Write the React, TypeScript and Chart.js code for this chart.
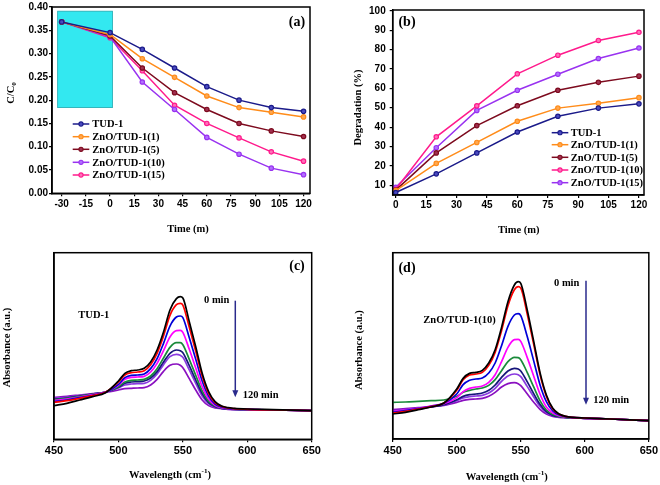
import React, { useEffect, useRef } from 'react';
import { Chart, registerables } from 'chart.js';

Chart.register(...registerables);

// ---------- data ----------
const SERIES_LABELS = ['TUD-1', 'ZnO/TUD-1(1)', 'ZnO/TUD-1(5)', 'ZnO/TUD-1(10)', 'ZnO/TUD-1(15)'];

// panel (a): C/C0 vs time
const TIME_A = [-30, 0, 20, 40, 60, 80, 100, 120];
const A_TUD1 = [0.368, 0.345, 0.309, 0.269, 0.229, 0.200, 0.184, 0.176];
const A_ZNO1 = [0.368, 0.341, 0.289, 0.249, 0.209, 0.184, 0.174, 0.164];
const A_ZNO5 = [0.368, 0.338, 0.269, 0.216, 0.180, 0.150, 0.134, 0.122];
const A_ZNO10 = [0.368, 0.336, 0.239, 0.180, 0.120, 0.084, 0.054, 0.040];
const A_ZNO15 = [0.368, 0.334, 0.263, 0.189, 0.150, 0.119, 0.089, 0.069];
const A_X_TICKS = [-30, -15, 0, 15, 30, 45, 60, 75, 90, 105, 120];
const A_Y_TICKS = [0, 0.05, 0.1, 0.15, 0.2, 0.25, 0.3, 0.35, 0.4];
const A_DARK_RANGE_X = [-32.5, 1.5];
const A_DARK_RANGE_Y = [0.184, 0.391];

// panel (b): degradation vs time
const TIME_B = [0, 20, 40, 60, 80, 100, 120];
const B_TUD1 = [6.3, 15.9, 26.7, 37.5, 45.6, 49.8, 52.0];
const B_ZNO1 = [7.3, 21.3, 32.1, 43.0, 49.8, 52.3, 55.2];
const B_ZNO5 = [7.5, 26.7, 40.8, 51.0, 59.0, 63.1, 66.3];
const B_ZNO10 = [8.0, 35.0, 51.0, 67.5, 77.1, 84.7, 88.9];
const B_ZNO15 = [9.0, 29.4, 48.6, 59.0, 67.3, 75.4, 80.8];
const B_X_TICKS = [0, 15, 30, 45, 60, 75, 90, 105, 120];
const B_Y_TICKS = [10, 20, 30, 40, 50, 60, 70, 80, 90, 100];

// panels (c),(d): absorbance spectra (arbitrary units)
const WAVE = [450, 460, 470, 480, 490, 500, 505, 510, 515, 520, 525, 530, 535, 540, 545, 548, 550, 555, 560, 565, 570, 575, 580, 585, 590, 600, 620, 650];
const SPEC_X_TICKS = [450, 500, 550, 600, 650];

const C_S1 = [101, 108, 118, 128, 140, 175, 198, 206, 208, 213, 232, 268, 322, 388, 422, 428, 424, 353, 278, 198, 143, 113, 100, 95, 93, 91, 89, 86];
const C_S2 = [111, 116, 123, 131, 141, 172, 193, 200, 202, 206, 224, 258, 310, 372, 404, 408, 403, 336, 264, 190, 138, 110, 99, 94, 92, 90, 88, 86];
const C_S3 = [113, 118, 125, 132, 141, 165, 185, 192, 193, 196, 212, 242, 288, 340, 367, 370, 365, 305, 240, 175, 130, 106, 97, 93, 91, 90, 88, 86];
const C_S4 = [116, 121, 127, 134, 142, 162, 180, 186, 187, 189, 202, 228, 266, 307, 326, 327, 321, 270, 214, 158, 121, 102, 95, 92, 91, 90, 88, 86];
const C_S5 = [118, 123, 129, 135, 142, 158, 172, 177, 178, 180, 190, 212, 244, 276, 290, 290, 284, 240, 192, 145, 114, 100, 94, 92, 91, 90, 88, 86];
const C_S6 = [120, 124, 130, 136, 142, 156, 168, 172, 173, 175, 184, 203, 232, 258, 268, 266, 260, 221, 178, 137, 110, 98, 93, 91, 90, 89, 88, 86];
const C_S7 = [122, 126, 131, 136, 142, 154, 163, 166, 167, 168, 177, 196, 224, 248, 255, 252, 246, 208, 168, 130, 107, 97, 93, 91, 90, 89, 88, 86];
const C_S8 = [126, 129, 133, 137, 141, 148, 152, 153, 154, 155, 163, 180, 204, 222, 226, 222, 215, 182, 148, 118, 101, 94, 92, 90, 89, 89, 88, 86];

const D_S1 = [75, 80, 88, 96, 108, 150, 182, 197, 200, 206, 228, 268, 335, 412, 462, 472, 467, 388, 295, 200, 132, 92, 75, 68, 65, 63, 60, 55];
const D_S2 = [78, 83, 90, 97, 108, 146, 178, 192, 195, 200, 221, 260, 325, 400, 448, 457, 453, 376, 286, 194, 128, 90, 74, 68, 65, 63, 60, 55];
const D_S3 = [80, 85, 91, 98, 107, 135, 163, 176, 180, 183, 198, 228, 280, 338, 372, 376, 370, 308, 236, 163, 112, 84, 72, 67, 65, 63, 60, 55];
const D_S4 = [82, 87, 92, 99, 106, 124, 142, 152, 156, 159, 170, 193, 232, 275, 298, 299, 293, 245, 190, 135, 96, 78, 70, 66, 64, 62, 60, 55];
const D_S5 = [110, 111, 113, 115, 117, 128, 140, 146, 150, 153, 161, 178, 205, 232, 245, 244, 238, 200, 157, 115, 87, 74, 68, 65, 64, 62, 60, 55];
const D_S6 = [80, 85, 90, 96, 103, 118, 128, 133, 135, 138, 146, 162, 185, 204, 212, 210, 204, 172, 137, 104, 82, 71, 67, 65, 64, 62, 60, 55];
const D_S7 = [84, 88, 92, 97, 102, 115, 123, 127, 129, 131, 138, 152, 173, 189, 195, 193, 187, 158, 127, 98, 79, 70, 66, 64, 63, 62, 60, 55];
const D_S8 = [88, 91, 94, 97, 101, 110, 116, 119, 120, 122, 128, 140, 156, 166, 169, 166, 160, 136, 111, 89, 75, 68, 65, 64, 63, 62, 60, 55];

// ---------- styles ----------
const SERIF = '"Liberation Serif", "Times New Roman", serif';
const SANS = '"Liberation Sans", Arial, sans-serif';
const COLORS_A = ['#1b1b8a', '#ff8c1a', '#7d0a1e', '#9932f0', '#ff1a8c'];
const FILL_A = ['#4a4ac0', '#ffa850', '#a03050', '#b070ff', '#ff70b8'];
const COLORS_B = ['#1b1b8a', '#ff8c1a', '#7d0a1e', '#ff1a8c', '#9932f0'];
const FILL_B = ['#4a4ac0', '#ffa850', '#a03050', '#ff70b8', '#b070ff'];
const SPEC_COLORS = ['#000000', '#ff0000', '#0000d8', '#ff00ff', '#1a8a3a', '#16167a', '#8a3ae0', '#8a10c0'];

type Part = { t: string; s?: 'sub' | 'sup' };
type TextItem = { x: number; y: number; parts: Part[]; size: number; rot?: boolean; align?: 'left' | 'center'; family?: string };

function drawRich(ctx: CanvasRenderingContext2D, it: TextItem, ox: number, oy: number) {
  const fam = it.family ?? SERIF;
  const small = it.size * 0.68;
  ctx.save();
  ctx.fillStyle = '#000';
  ctx.textBaseline = 'middle';
  ctx.textAlign = 'left';
  const widths = it.parts.map((p) => {
    ctx.font = `bold ${p.s ? small : it.size}px ${fam}`;
    return ctx.measureText(p.t).width;
  });
  const total = widths.reduce((a, b) => a + b, 0);
  ctx.translate(it.x - ox, it.y - oy);
  if (it.rot) ctx.rotate(-Math.PI / 2);
  let cx = it.align === 'left' ? 0 : -total / 2;
  it.parts.forEach((p, i) => {
    ctx.font = `bold ${p.s ? small : it.size}px ${fam}`;
    const dy = p.s === 'sub' ? it.size * 0.3 : p.s === 'sup' ? -it.size * 0.35 : 0;
    ctx.fillText(p.t, cx, dy);
    cx += widths[i];
  });
  ctx.restore();
}

function textPlugin(items: TextItem[], ox: number, oy: number) {
  return {
    id: 'texts',
    afterDraw(chart: any) {
      items.forEach((it) => drawRich(chart.ctx, it, ox, oy));
    },
  };
}

const framePlugin = {
  id: 'frame',
  afterDatasetsDraw(chart: any) {
    const { ctx, chartArea: a } = chart;
    ctx.save();
    ctx.strokeStyle = '#000';
    ctx.lineWidth = 1.5;
    ctx.strokeRect(a.left, a.top, a.right - a.left, a.bottom - a.top);
    ctx.restore();
  },
};

function legendPlugin(x1: number, x2: number, tx: number, rows: number[], ox: number, oy: number) {
  return {
    id: 'customLegend',
    afterDraw(chart: any) {
      const ctx = chart.ctx;
      ctx.save();
      chart.data.datasets.forEach((ds: any, i: number) => {
        const y = rows[i] - oy;
        ctx.strokeStyle = ds.borderColor;
        ctx.lineWidth = 1.5;
        ctx.beginPath();
        ctx.moveTo(x1 - ox, y);
        ctx.lineTo(x2 - ox, y);
        ctx.stroke();
        ctx.beginPath();
        ctx.arc((x1 + x2) / 2 - ox, y, 2.1, 0, Math.PI * 2);
        ctx.fillStyle = ds.pointBackgroundColor;
        ctx.fill();
        ctx.lineWidth = 1.1;
        ctx.stroke();
        ctx.fillStyle = '#000';
        ctx.font = `bold 10.5px ${SERIF}`;
        ctx.textBaseline = 'middle';
        ctx.textAlign = 'left';
        ctx.fillText(ds.label, tx - ox, y + 0.5);
      });
      ctx.restore();
    },
  };
}

function arrowPlugin(x: number, y1: number, y2: number, ox: number, oy: number) {
  return {
    id: 'arrow',
    afterDraw(chart: any) {
      const ctx = chart.ctx;
      ctx.save();
      ctx.strokeStyle = '#2a2a8c';
      ctx.fillStyle = '#2a2a8c';
      ctx.lineWidth = 1.5;
      ctx.beginPath();
      ctx.moveTo(x - ox, y1 - oy);
      ctx.lineTo(x - ox, y2 - oy - 5);
      ctx.stroke();
      ctx.beginPath();
      ctx.moveTo(x - ox - 3, y2 - oy - 7);
      ctx.lineTo(x - ox + 3, y2 - oy - 7);
      ctx.lineTo(x - ox, y2 - oy);
      ctx.closePath();
      ctx.fill();
      ctx.restore();
    },
  };
}

const cyanBoxPlugin = {
  id: 'cyanBox',
  beforeDatasetsDraw(chart: any) {
    const { ctx, scales } = chart;
    const xl = scales.x.getPixelForValue(A_DARK_RANGE_X[0]);
    const xr = scales.x.getPixelForValue(A_DARK_RANGE_X[1]);
    const yt = scales.y.getPixelForValue(A_DARK_RANGE_Y[1]);
    const yb = scales.y.getPixelForValue(A_DARK_RANGE_Y[0]);
    ctx.save();
    ctx.fillStyle = '#33e8f0';
    ctx.fillRect(xl, yt, xr - xl, yb - yt);
    ctx.strokeStyle = '#20a8b0';
    ctx.lineWidth = 0.8;
    ctx.strokeRect(xl, yt, xr - xl, yb - yt);
    ctx.restore();
  },
};

function axisStyle(size: number, pad: number) {
  return {
    ticks: { color: '#000', font: { family: SANS, size, weight: 'bold' as const }, padding: pad },
    grid: { display: true, drawOnChartArea: false, drawTicks: true, tickLength: 3, color: '#000', lineWidth: 1.2 },
    border: { display: true, color: '#000', width: 1.5 },
    title: { display: false },
  };
}

function lineDatasets(arrays: number[][], xs: number[], colors: string[], fills: string[]) {
  return arrays.map((arr, i) => ({
    label: SERIES_LABELS[i],
    data: arr.map((v, j) => ({ x: xs[j], y: v })),
    borderColor: colors[i],
    backgroundColor: colors[i],
    pointBackgroundColor: fills[i],
    pointBorderColor: colors[i],
    pointRadius: 2.2,
    pointBorderWidth: 1.2,
    borderWidth: 1.5,
    tension: 0,
  }));
}

function specDatasets(arrays: number[][]) {
  return arrays.map((arr, i) => ({
    label: `curve ${i + 1}`,
    data: arr.map((v, j) => ({ x: WAVE[j], y: v })),
    borderColor: SPEC_COLORS[i],
    backgroundColor: SPEC_COLORS[i],
    borderWidth: 1.7,
    pointRadius: 0,
    cubicInterpolationMode: 'monotone' as const,
  }));
}

const setTicks = (vals: number[]) => (axis: any) => {
  axis.ticks = vals.map((v) => ({ value: v }));
};

function makeA(ox: number, oy: number): any {
  const xs = axisStyle(10, 2);
  const ys = axisStyle(10, 1);
  return {
    type: 'line',
    data: { datasets: lineDatasets([A_TUD1, A_ZNO1, A_ZNO5, A_ZNO10, A_ZNO15], TIME_A, COLORS_A, FILL_A) },
    options: {
      animation: false,
      responsive: false,
      layout: { padding: { left: 0, top: 7, right: 20, bottom: 0 } },
      plugins: { legend: { display: false }, tooltip: { enabled: false } },
      scales: {
        x: { ...xs, type: 'linear', min: -36, max: 124, afterBuildTicks: setTicks(A_X_TICKS), afterFit: (s: any) => { s.height = 46.7; },
          ticks: { ...xs.ticks, callback: (v: any) => String(v) } },
        y: { ...ys, type: 'linear', min: 0, max: 0.4, afterBuildTicks: setTicks(A_Y_TICKS), afterFit: (s: any) => { s.width = 52; },
          ticks: { ...ys.ticks, callback: (v: any) => Number(v).toFixed(2) } },
      },
    },
    plugins: [
      cyanBoxPlugin,
      framePlugin,
      legendPlugin(72.7, 89.3, 92.3, [124, 136.7, 149.3, 162.3, 175], ox, oy),
      textPlugin([
        { x: 11, y: 93, parts: [{ t: 'C/C' }, { t: '0', s: 'sub' }], size: 10.5, rot: true },
        { x: 188, y: 229, parts: [{ t: 'Time (m)' }], size: 10.5 },
        { x: 297, y: 22.5, parts: [{ t: '(a)' }], size: 14 },
      ], ox, oy),
    ],
  };
}

function makeB(ox: number, oy: number): any {
  const xs = axisStyle(10, 1);
  const ys = axisStyle(10, 4);
  return {
    type: 'line',
    data: { datasets: lineDatasets([B_TUD1, B_ZNO1, B_ZNO5, B_ZNO10, B_ZNO15], TIME_B, COLORS_B, FILL_B) },
    options: {
      animation: false,
      responsive: false,
      layout: { padding: { left: 0, top: 7, right: 16, bottom: 0 } },
      plugins: { legend: { display: false }, tooltip: { enabled: false } },
      scales: {
        x: { ...xs, type: 'linear', min: -1.5, max: 122.5, afterBuildTicks: setTicks(B_X_TICKS), afterFit: (s: any) => { s.height = 45; },
          ticks: { ...xs.ticks, callback: (v: any) => String(v) } },
        y: { ...ys, type: 'linear', min: 5, max: 100.4, afterBuildTicks: setTicks(B_Y_TICKS), afterFit: (s: any) => { s.width = 62.7; },
          ticks: { ...ys.ticks, callback: (v: any) => String(v) } },
      },
    },
    plugins: [
      framePlugin,
      legendPlugin(551.7, 568.3, 570.7, [132.7, 144.7, 157.3, 170, 182.7], ox, oy),
      textPlugin([
        { x: 358, y: 107.5, parts: [{ t: 'Degradation (%)' }], size: 10.5, rot: true },
        { x: 518.7, y: 230, parts: [{ t: 'Time (m)' }], size: 10.5 },
        { x: 407, y: 22, parts: [{ t: '(b)' }], size: 14 },
      ], ox, oy),
    ],
  };
}

function makeSpec(ox: number, oy: number, arrays: number[][], yMax: number, yWidth: number, padRight: number, xHeight: number,
  texts: TextItem[], arrow: [number, number, number]): any {
  const xs = axisStyle(11, 2);
  return {
    type: 'line',
    data: { datasets: specDatasets(arrays) },
    options: {
      animation: false,
      responsive: false,
      layout: { padding: { left: 0, top: 12.7, right: padRight, bottom: 0 } },
      plugins: { legend: { display: false }, tooltip: { enabled: false } },
      scales: {
        x: { ...xs, type: 'linear', min: 450, max: 650, afterBuildTicks: setTicks(SPEC_X_TICKS), afterFit: (s: any) => { s.height = xHeight; },
          ticks: { ...xs.ticks, callback: (v: any) => String(v) } },
        y: { type: 'linear', min: 0, max: yMax, afterFit: (s: any) => { s.width = yWidth; },
          ticks: { display: false }, grid: { display: false }, border: { display: true, color: '#000', width: 1.5 } },
      },
    },
    plugins: [framePlugin, arrowPlugin(arrow[0], arrow[1], arrow[2], ox, oy), textPlugin(texts, ox, oy)],
  };
}

function makeC(ox: number, oy: number): any {
  return makeSpec(ox, oy, [C_S1, C_S2, C_S3, C_S4, C_S5, C_S6, C_S7, C_S8], 560, 54, 18.3, 45.7, [
    { x: 7, y: 347.5, parts: [{ t: 'Absorbance (a.u.)' }], size: 10.5, rot: true },
    { x: 170, y: 475, parts: [{ t: 'Wavelength (cm' }, { t: '-1', s: 'sup' }, { t: ')' }], size: 10.5 },
    { x: 297, y: 266.7, parts: [{ t: '(c)' }], size: 14 },
    { x: 78.3, y: 315, parts: [{ t: 'TUD-1' }], size: 10.5, align: 'left' },
    { x: 204, y: 300.7, parts: [{ t: '0 min' }], size: 10.5, align: 'left' },
    { x: 242.7, y: 395.3, parts: [{ t: '120 min' }], size: 10.5, align: 'left' },
  ], [235.3, 300.7, 397.3]);
}

function makeD(ox: number, oy: number): any {
  return makeSpec(ox, oy, [D_S1, D_S2, D_S3, D_S4, D_S5, D_S6, D_S7, D_S8], 559, 62.7, 10, 46, [
    { x: 359.3, y: 350, parts: [{ t: 'Absorbance (a.u.)' }], size: 10.5, rot: true },
    { x: 506.7, y: 477, parts: [{ t: 'Wavelength (cm' }, { t: '-1', s: 'sup' }, { t: ')' }], size: 10.5 },
    { x: 407, y: 268.3, parts: [{ t: '(d)' }], size: 14 },
    { x: 423.3, y: 320, parts: [{ t: 'ZnO/TUD-1(10)' }], size: 10.5, align: 'left' },
    { x: 554, y: 283.3, parts: [{ t: '0 min' }], size: 10.5, align: 'left' },
    { x: 593.3, y: 400.7, parts: [{ t: '120 min' }], size: 10.5, align: 'left' },
  ], [586, 280.7, 404.7]);
}

function ChartCanvas(props: { left: number; top: number; width: number; height: number; make: (ox: number, oy: number) => any }) {
  const ref = useRef<HTMLCanvasElement>(null);
  useEffect(() => {
    const chart = new Chart(ref.current as HTMLCanvasElement, props.make(props.left, props.top));
    return () => chart.destroy();
  }, []);
  return (
    <canvas
      ref={ref}
      width={props.width}
      height={props.height}
      style={{ position: 'absolute', left: props.left, top: props.top, width: props.width, height: props.height }}
    />
  );
}

export default function App() {
  return (
    <div style={{ position: 'fixed', left: 0, top: 0, width: 660, height: 485, background: '#fff', overflow: 'hidden' }}>
      <ChartCanvas left={0} top={0} width={330} height={240} make={makeA} />
      <ChartCanvas left={330} top={0} width={330} height={240} make={makeB} />
      <ChartCanvas left={0} top={240} width={330} height={245} make={makeC} />
      <ChartCanvas left={330} top={240} width={330} height={245} make={makeD} />
    </div>
  );
}
